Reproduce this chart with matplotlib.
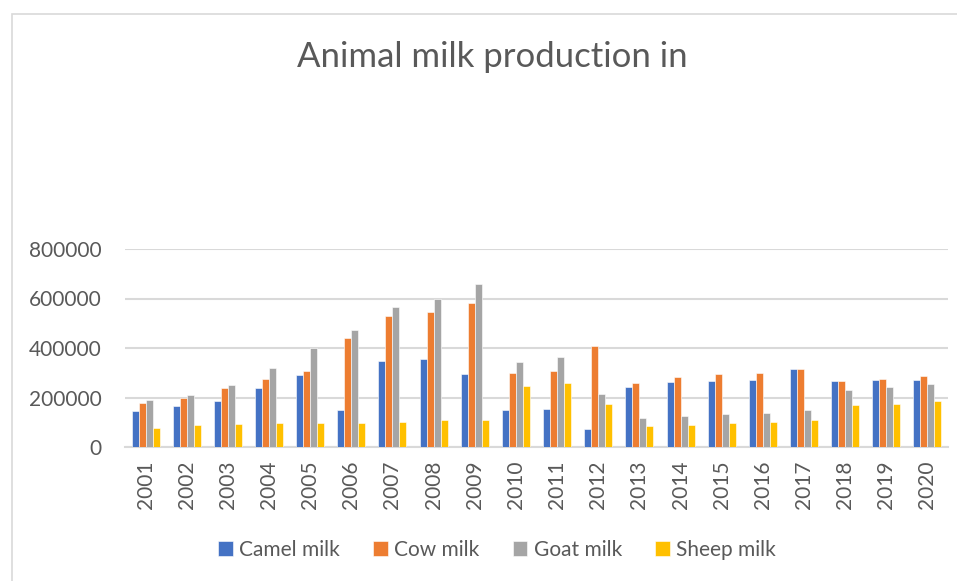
import numpy as np
import matplotlib
matplotlib.use("Agg")
import matplotlib.pyplot as plt
from matplotlib.patches import Rectangle

years = [str(y) for y in range(2001, 2021)]
camel = [147000, 165000, 185000, 238000, 292000, 151000, 349000, 355000, 295000, 150000,
         153000, 74000, 242000, 262000, 265000, 270000, 315000, 265000, 270000, 270000]
cow = [176000, 197000, 240000, 276000, 309000, 439000, 530000, 547000, 580000, 297000,
       307000, 407000, 258000, 284000, 293000, 301000, 315000, 267000, 276000, 285000]
goat = [190000, 209000, 250000, 319000, 401000, 473000, 567000, 596000, 658000, 345000,
        362000, 216000, 119000, 126000, 132000, 139000, 150000, 230000, 242000, 255000]
sheep = [78000, 89000, 92000, 95000, 97000, 97000, 103000, 108000, 111000, 247000,
         258000, 173000, 85000, 88000, 95000, 99000, 108000, 168000, 174000, 184000]

series = [("Camel milk", camel, "#4472c4"),
          ("Cow milk", cow, "#ed7d31"),
          ("Goat milk", goat, "#a5a5a5"),
          ("Sheep milk", sheep, "#ffc000")]

plt.rcParams['font.family'] = ['Lato', 'DejaVu Sans']
txt = "#595959"

fig = plt.figure(figsize=(9.57, 5.81), dpi=100)
fig.patches.append(Rectangle((12 / 957, -0.01), 960 / 957, 1 - 14 / 581 + 0.01, transform=fig.transFigure,
                             fill=False, edgecolor="#d9d9d9", linewidth=1.2))
ax = fig.add_axes([125 / 957, 1 - 447 / 581, 823 / 957, 198 / 581])

x = np.arange(len(years))
w = 0.17
for i, (name, vals, col) in enumerate(series):
    ax.bar(x + (i - 1.5) * w, vals, w, color=col, edgecolor="white", linewidth=0.4,
           label=name, zorder=3)

ax.set_xlim(-0.5, len(years) - 0.5)
ax.set_ylim(0, 800000)
ax.set_yticks([0, 200000, 400000, 600000, 800000])
ax.set_yticklabels(["0", "200000", "400000", "600000", "800000"])
ax.set_xticks(x)
ax.set_xticklabels(years, rotation=90)
ax.grid(axis="y", color="#d9d9d9", linewidth=1.5, zorder=0)
for s in ["top", "right", "left"]:
    ax.spines[s].set_visible(False)
ax.spines["bottom"].set_color("#d9d9d9")
ax.spines["bottom"].set_linewidth(1.5)
ax.tick_params(axis="y", length=0, labelsize=15, colors=txt, pad=17)
ax.tick_params(axis="x", length=0, labelsize=15, colors=txt, pad=10)

fig.text(492 / 957, 1 - 57 / 581, "Animal milk production in", ha="center", va="center",
         fontsize=25, color=txt)

ax.legend(loc="center", bbox_to_anchor=(497 / 957, 1 - 550 / 581), bbox_transform=fig.transFigure,
          ncol=4, frameon=False, fontsize=15, labelcolor=txt, handlelength=0.7, handleheight=0.7,
          handletextpad=0.3, columnspacing=1.6)

fig.savefig("out.png", dpi=100)
